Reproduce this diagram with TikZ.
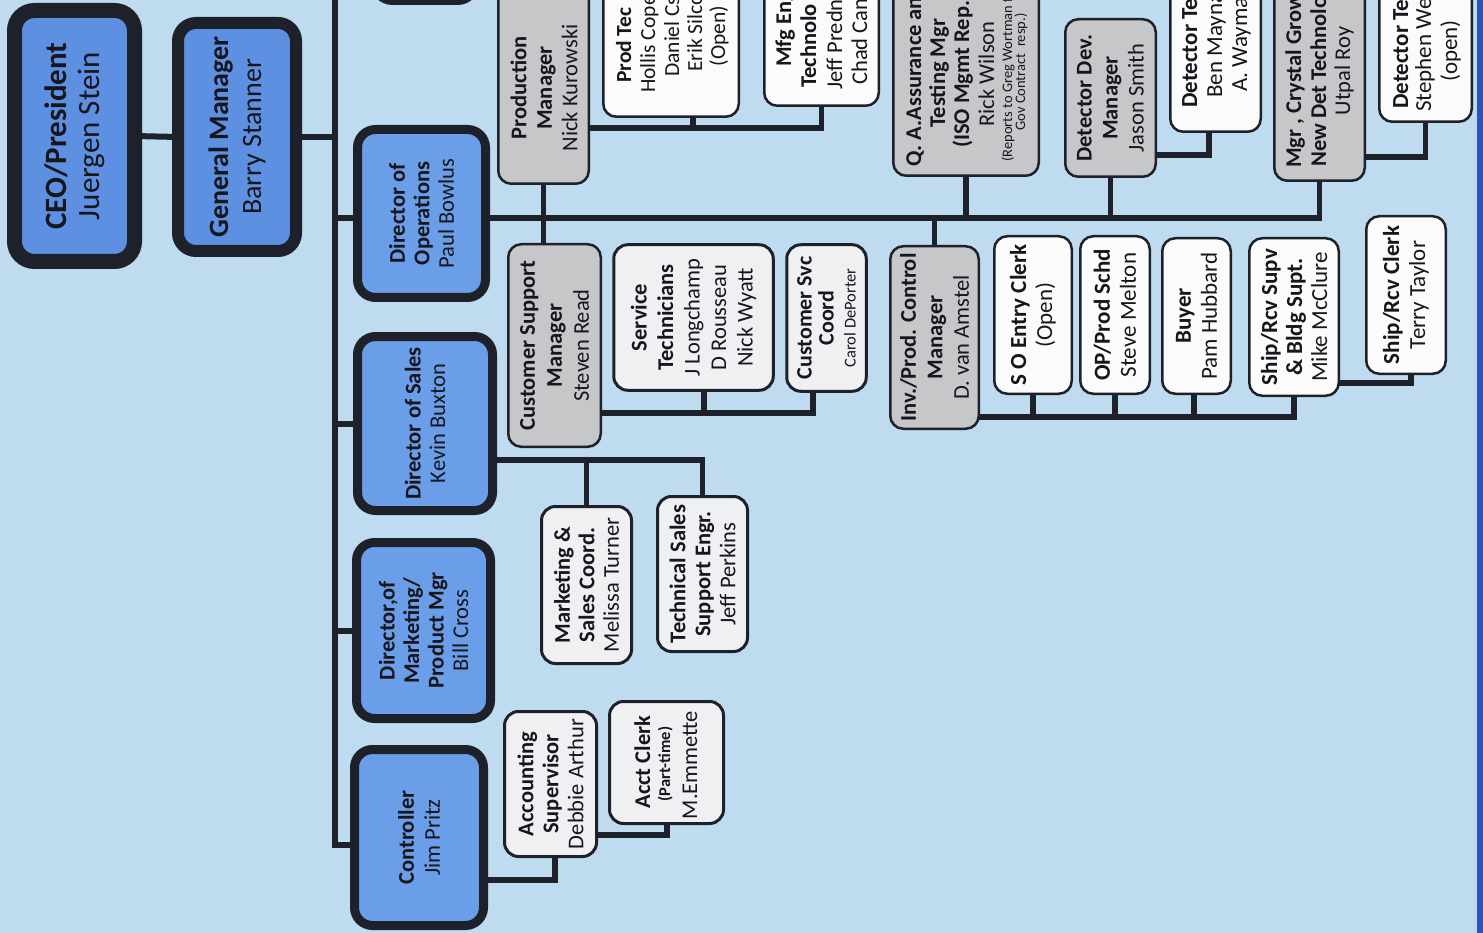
\documentclass[tikz,border=0pt]{standalone}
\usepackage{fontspec}
\setmainfont{Carlito}
\definecolor{bgc}{RGB}{190,219,240}
\definecolor{edgec}{RGB}{44,84,186}
\definecolor{darkc}{RGB}{30,33,42}
\definecolor{ceoc}{RGB}{94,144,226}
\definecolor{dirc}{RGB}{106,158,232}
\definecolor{grayc}{RGB}{198,199,201}
\definecolor{whitec}{RGB}{251,251,251}
\definecolor{offc}{RGB}{238,240,242}
\definecolor{textc}{RGB}{22,22,28}
\newcommand\fsz[2]{\fontsize{#1}{#2}\selectfont}
\pgfdeclarelayer{bg}
\pgfsetlayers{bg,main}
\tikzset{
  bx/.style={rectangle, inner sep=0pt, outer sep=0pt, draw=darkc},
  ceobox/.style={bx, fill=ceoc, line width=15pt, rounded corners=20pt},
  gmbox/.style={bx, fill=ceoc, line width=12pt, rounded corners=18pt},
  dirbox/.style={bx, fill=dirc, line width=9pt, rounded corners=18pt},
  graybox/.style={bx, fill=grayc, line width=2.5pt, rounded corners=13pt},
  whitebox/.style={bx, fill=whitec, line width=2.5pt, rounded corners=13pt},
  offbox/.style={bx, fill=offc, line width=3pt, rounded corners=14pt},
  txt/.style={rotate=90, align=center, text=textc, inner sep=0pt},
  conn/.style={draw=darkc, line width=6pt},
  subconn/.style={draw=darkc, line width=5.5pt},
}
% style, name, x1, y1, x2, y2, line width
\newcommand\obox[7]{\node[#1, minimum width={(#5-#3-#7)*1pt}, minimum height={(#6-#4-#7)*1pt}] (#2) at ({(#3+#5)/2},{(#4+#6)/2}) {};}
% name, size, skip, text
\newcommand\otext[4]{\node[txt, font=\fsz{#2}{#3}] at (#1.center) {#4};}
% x(baseline), y, anchor, font, text
\newcommand\tline[5]{\node[rotate=90, anchor=#3, text=textc, inner sep=0pt, font=#4] at (#1,#2) {#5};}
\begin{document}
\begin{tikzpicture}[x=1pt,y=-1pt]
\useasboundingbox (0,0) rectangle (1483,933);
\clip (0,0) rectangle (1483,933);
\begin{pgfonlayer}{bg}
\fill[bgc] (0,0) rectangle (1483,933);
\fill[edgec] (1477,0) rectangle (1483,933);
\end{pgfonlayer}

% level 1-2
\obox{ceobox}{ceo}{7}{3}{142}{269}{15}
\obox{gmbox}{gm}{172}{17}{302}{257}{12}
\obox{dirbox}{topd}{370}{-100}{480}{5}{9}
\obox{dirbox}{dops}{353}{125}{490}{302}{9}
\obox{dirbox}{dsales}{353}{332}{497}{515}{9}
\obox{dirbox}{dmkt}{352}{538}{495}{723}{9}
\obox{dirbox}{ctrl}{350}{745}{488}{930}{9}

% operations
\obox{graybox}{prodm}{497}{-30}{590}{185}{2.5}
\obox{whitebox}{ptec}{602}{-80}{740}{118}{2.5}
\obox{whitebox}{mfg}{763}{-80}{880}{107}{2.5}
\obox{graybox}{csm}{507}{243}{602}{448}{2.5}
\obox{offbox}{svct}{612}{243}{775}{392}{3.5}
\obox{offbox}{csc}{785}{243}{868}{393}{3.5}
\obox{graybox}{qa}{892}{-80}{1040}{177}{2.5}
\obox{graybox}{inv}{889}{245}{980}{430}{2.5}
\obox{graybox}{detdev}{1064}{18}{1157}{178}{2.5}
\obox{whitebox}{dtone}{1169}{-80}{1262}{133}{2.5}
\obox{graybox}{mgrc}{1273}{-80}{1366}{182}{2.5}
\obox{whitebox}{dttwo}{1378}{-80}{1473}{123}{2.5}
\obox{whitebox}{so}{993}{235}{1073}{395}{2.5}
\obox{whitebox}{op}{1079}{235}{1151}{395}{2.5}
\obox{whitebox}{buyer}{1161}{237}{1232}{395}{2.5}
\obox{whitebox}{ship}{1248}{237}{1340}{397}{2.5}
\obox{whitebox}{src}{1365}{215}{1447}{375}{2.5}

% sales, marketing, controller
\obox{offbox}{msc}{540}{505}{633}{665}{3}
\obox{offbox}{tss}{656}{495}{749}{653}{3}
\obox{offbox}{acs}{503}{710}{598}{858}{3}
\obox{offbox}{acl}{608}{700}{725}{825}{3}

% connectors
\coordinate (vtop) at (335,-10);
\coordinate (cst) at (0,845);
\coordinate (ob) at (0,218);
\coordinate (pmb) at (693,128);
\coordinate (ddb) at (1209,155);
\coordinate (mcb) at (0,157);
\coordinate (csa) at (704,413);
\coordinate (csb) at (813,413);
\coordinate (ib) at (0,417);
\coordinate (bys) at (1194,0);
\coordinate (sb) at (1411,383);
\coordinate (slb) at (0,460);
\coordinate (cb) at (555,880);
\coordinate (ab) at (667,835);
\begin{pgfonlayer}{bg}
\draw[conn] (vtop) -- (vtop |- cst) -- (ctrl.west |- cst);
\draw[conn] (ceo.east) -- (gm.west);
\draw[conn] (gm.east) -- (gm.east -| vtop);
\draw[conn] (vtop |- ob) -- (dops.west |- ob);
\draw[conn] (vtop |- dsales.west) -- (dsales.west);
\draw[conn] (vtop |- dmkt.west) -- (dmkt.west);
\draw[subconn] (dops.east |- ob) -- (mgrc.south |- ob) -- (mgrc.south);
\draw[subconn] (prodm.south) -- (prodm.south |- csm.north);
\draw[subconn] (qa.south) -- (qa.south |- ob);
\draw[subconn] (detdev.south) -- (detdev.south |- ob);
\draw[subconn] (inv.north) -- (inv.north |- ob);
\draw[subconn] (prodm.east |- pmb) -- (mfg.south |- pmb) -- (mfg.south);
\draw[subconn] (pmb) -- (pmb |- ptec.south);
\draw[subconn] (detdev.east |- ddb) -- (ddb) -- (ddb |- dtone.south);
\draw[subconn] (mgrc.east |- mcb) -- (dttwo.south |- mcb) -- (dttwo.south);
\draw[subconn] (csm.east |- csa) -- (csb) -- (csb |- csc.south);
\draw[subconn] (csa) -- (csa |- svct.south);
\draw[subconn] (inv.east |- ib) -- (ship.south |- ib) -- (ship.south);
\draw[subconn] (so.south) -- (so.south |- ib);
\draw[subconn] (op.south) -- (op.south |- ib);
\draw[subconn] (bys |- buyer.south) -- (bys |- ib);
\draw[subconn] (ship.east |- sb) -- (sb) -- (sb |- src.south);
\draw[subconn] (dsales.east |- slb) -- (tss.north |- slb) -- (tss.north);
\draw[subconn] (msc.north) -- (msc.north |- slb);
\draw[subconn] (ctrl.east |- cb) -- (cb) -- (cb |- acs.south);
\draw[subconn] (acs.east |- ab) -- (ab) -- (ab |- acl.south);
\end{pgfonlayer}

% texts
\otext{ceo}{31}{33}{\textbf{CEO/President}\\Juergen Stein}
\otext{gm}{28}{33}{\textbf{General Manager}\\Barry Stanner}
\otext{dops}{22.5}{24.5}{\textbf{Director of}\\\textbf{Operations}\\Paul Bowlus}
\otext{dsales}{22.5}{24.5}{\textbf{Director of Sales}\\Kevin Buxton}
\otext{dmkt}{22.5}{24.5}{\textbf{Director,of}\\\textbf{Marketing/}\\\textbf{Product Mgr}\\Bill Cross}
\otext{ctrl}{22.5}{26}{\textbf{Controller}\\Jim Pritz}
\node[txt, font=\fsz{22.5}{25.5}] at (544,88) {\textbf{Production}\\\textbf{Manager}\\Nick Kurowski};
\otext{csm}{22.5}{27}{\textbf{Customer Support}\\\textbf{Manager}\\Steven Read}
\otext{svct}{22.5}{26.5}{\textbf{Service}\\\textbf{Technicians}\\J Longchamp\\D Rousseau\\Nick Wyatt}
\otext{csc}{22}{22}{\textbf{Customer Svc}\\\textbf{Coord}\\{\fsz{16.5}{18}Carol DePorter}}
\otext{inv}{22.5}{26.5}{\textbf{Inv./Prod. Control}\\\textbf{Manager}\\D. van Amstel}
\otext{detdev}{22.5}{26}{\textbf{Detector Dev.}\\\textbf{Manager}\\Jason Smith}
\otext{so}{23}{26}{\textbf{S O Entry Clerk}\\(Open)}
\otext{op}{23}{26}{\textbf{OP/Prod Schd}\\Steve Melton}
\otext{buyer}{23}{26}{\textbf{Buyer}\\Pam Hubbard}
\otext{ship}{23}{25}{\textbf{Ship/Rcv Supv}\\\textbf{\& Bldg Supt.}\\Mike McClure}
\otext{src}{23}{26}{\textbf{Ship/Rcv Clerk}\\Terry Taylor}
\otext{msc}{22.5}{24.5}{\textbf{Marketing \&}\\\textbf{Sales Coord.}\\Melissa Turner}
\otext{tss}{22.5}{25}{\textbf{Technical Sales}\\\textbf{Support Engr.}\\Jeff Perkins}
\otext{acs}{22.5}{25}{\textbf{Accounting}\\\textbf{Supervisor}\\Debbie Arthur}
\tline{650}{762}{base}{\fsz{22.5}{24}\bfseries}{Acct Clerk}
\tline{670}{764}{base}{\fsz{16.5}{18}\bfseries}{(Part-time)}
\tline{697}{765}{base}{\fsz{22.5}{24}}{M.Emmette}

% cut-off boxes, line by line
\tline{631}{83}{base west}{\fsz{21.5}{23}\bfseries}{Prod Tec}
\tline{655}{93}{base west}{\fsz{21.5}{23}}{Hollis Copel}
\tline{679}{77}{base west}{\fsz{21.5}{23}}{Daniel Cs}
\tline{702}{72}{base west}{\fsz{21.5}{23}}{Erik Silco}
\tline{725}{36}{base}{\fsz{21.5}{23}}{(Open)}

\tline{791}{67}{base west}{\fsz{22.5}{24}\bfseries}{Mfg Eng}
\tline{816}{88}{base west}{\fsz{22.5}{24}\bfseries}{Technolo}
\tline{842}{90}{base west}{\fsz{22.5}{24}}{Jeff Predn}
\tline{867}{85}{base west}{\fsz{22.5}{24}}{Chad Can}

\tline{921}{167}{base west}{\fsz{22.5}{24}\bfseries}{Q. A.Assurance an}
\tline{945}{73}{base}{\fsz{22.5}{24}\bfseries}{Testing Mgr}
\tline{969}{148}{base west}{\fsz{22.5}{24}\bfseries}{(ISO Mgmt Rep. )}
\tline{994}{74}{base}{\fsz{22.5}{24}}{Rick Wilson}
\tline{1012}{162}{base west}{\fsz{14.5}{15}}{(Reports to Greg Wortman f}
\tline{1025}{72}{base}{\fsz{14.5}{15}}{Gov Contract\ \ resp.)}

\tline{1197}{108}{base west}{\fsz{23}{24}\bfseries}{Detector Te}
\tline{1222}{98}{base west}{\fsz{23}{24}}{Ben Mayna}
\tline{1247}{92}{base west}{\fsz{23}{24}}{A. Wayma}

\tline{1301}{168}{base west}{\fsz{22.5}{24}\bfseries}{Mgr , Crystal Grow}
\tline{1326}{167}{base west}{\fsz{22.5}{24}\bfseries}{New Det Technolo}
\tline{1350}{71}{base}{\fsz{22.5}{24}}{Utpal Roy}

\tline{1408}{109}{base west}{\fsz{23}{24}\bfseries}{Detector Te}
\tline{1431}{112}{base west}{\fsz{23}{24}}{Stephen Wei}
\tline{1457}{51}{base}{\fsz{23}{24}}{(open)}
\end{tikzpicture}
\end{document}
